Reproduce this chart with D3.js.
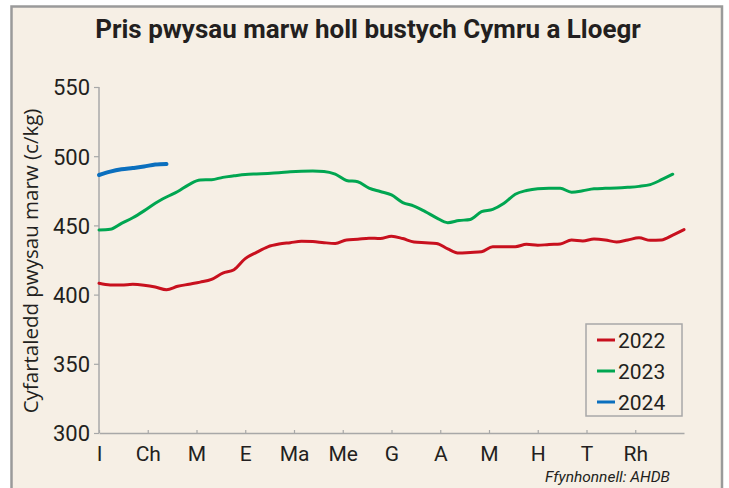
<!DOCTYPE html>
<html>
<head>
<meta charset="utf-8">
<script src="https://cdn.jsdelivr.net/npm/d3@7"></script>
<style>
  html, body { margin: 0; padding: 0; background: #ffffff; }
  svg { display: block; font-family: "Liberation Sans Narrow", "Roboto", "Open Sans", sans-serif; }
</style>
</head>
<body>
<div id="chart"></div>
<script>
// Weekly prices (c/kg), week index 0 = first week of January
const months = ['I', 'Ch', 'M', 'E', 'Ma', 'Me', 'G', 'A', 'M', 'H', 'T', 'Rh'];
const yTicks = [300, 350, 400, 450, 500, 550];

const prices2022 = [408.2, 407, 407, 407.4, 406.8, 405.5, 403.5, 406, 407.5, 409, 411, 415.5, 418,
    426, 430.5, 434.5, 436.5, 437.5, 438.5, 438.3, 437.5, 437, 439.5, 440, 440.8, 440.5, 442.2,
    440.5, 438, 437.5, 437, 433, 430, 430.5, 431, 434.6, 434.6, 434.6, 436.3, 435.6, 436.2, 436.5,
    439.5, 438.8, 440.2, 439.5, 438, 439.5, 441, 439.2, 439.5, 443, 447];
const prices2023 = [446.7, 447.2, 451.5, 455.5, 460.5, 466, 470.5, 474.5, 479.5, 482.8, 483, 484.7,
    485.8, 486.8, 487.2, 487.5, 488, 488.8, 489.2, 489.3, 489, 487, 482.5, 481.5, 477, 474.5, 472,
    466.5, 464, 460, 455.5, 452, 453.5, 454.3, 459.9, 461.6, 466, 472.5, 475.2, 476.5, 476.8, 476.8,
    474, 475, 476.5, 476.8, 477, 477.5, 478.2, 479.5, 483, 487];
const prices2024 = [486.4, 488.9, 490.6, 491.5, 492.5, 494, 494.4];

const seriesNames = ['2022', '2023', '2024'];
const seriesColors = ['#c8101e', '#00a651', '#0b6fbe'];

const width = 729, height = 488;
const plot = { left: 99, right: 684, top: 87, bottom: 433 };

const svg = d3.select('#chart').append('svg')
    .attr('width', width)
    .attr('height', height);

// panel background + border (bottom edge runs off the picture)
svg.append('rect')
    .attr('x', 11.5).attr('y', 6.5)
    .attr('width', 710.5).attr('height', 500)
    .attr('fill', '#f6efe5')
    .attr('stroke', '#9a9a9a')
    .attr('stroke-width', 2.5);

svg.append('text')
    .attr('x', 368)
    .attr('y', 38)
    .attr('text-anchor', 'middle')
    .attr('font-weight', 'bold')
    .attr('font-size', 26)
    .attr('fill', '#231f20')
    .text('Pris pwysau marw holl bustych Cymru a Lloegr');

const x = d3.scaleLinear().domain([0, 52]).range([plot.left, plot.right]);
const xMonth = d3.scaleLinear().domain([0, 12]).range([plot.left, plot.right]);
const y = d3.scaleLinear().domain([300, 550]).range([plot.bottom, plot.top]);

// axes
const yAxis = svg.append('g')
    .attr('transform', `translate(${plot.left},0)`)
    .call(d3.axisLeft(y).tickValues(yTicks).tickSize(5).tickPadding(4));

const xAxis = svg.append('g')
    .attr('transform', `translate(0,${plot.bottom})`)
    .call(d3.axisBottom(xMonth).tickValues(d3.range(12)).tickFormat(i => months[i])
        .tickSize(-3).tickSizeOuter(0).tickPadding(10));

[xAxis, yAxis].forEach(ax => {
    ax.select('.domain').attr('stroke', '#a8a8a8').attr('stroke-width', 1.5);
    ax.selectAll('.tick line').attr('stroke', '#a8a8a8').attr('stroke-width', 1.2);
    ax.selectAll('.tick text')
        .attr('fill', '#231f20')
        .attr('font-family', '"Liberation Sans Narrow", "Roboto", sans-serif');
});
yAxis.select('.domain').attr('d', `M0,${plot.top}V${plot.bottom}`);
yAxis.selectAll('.tick text').attr('font-size', 22).attr('dy', '0.36em');
xAxis.selectAll('.tick text').attr('font-size', 21).attr('dy', '0.85em');

svg.append('text')
    .attr('transform', `translate(38,261) rotate(-90)`)
    .attr('text-anchor', 'middle')
    .attr('font-size', 20.5)
    .attr('font-family', '"Open Sans", sans-serif')
    .attr('fill', '#231f20')
    .text('Cyfartaledd pwysau marw (c/kg)');

// lines
const line = d3.line()
    .x((d, i) => x(i))
    .y(d => y(d))
    .curve(d3.curveMonotoneX);

[prices2022, prices2023, prices2024].forEach((values, k) => {
    svg.append('path')
        .datum(values)
        .attr('fill', 'none')
        .attr('stroke', seriesColors[k])
        .attr('stroke-width', k === 2 ? 4 : 3)
        .attr('stroke-linecap', 'round')
        .attr('stroke-linejoin', 'round')
        .attr('d', line);
});

// legend
const legend = svg.append('g').attr('transform', 'translate(586,324)');
legend.append('rect')
    .attr('width', 96).attr('height', 92)
    .attr('fill', 'none')
    .attr('stroke', '#a8a8a8')
    .attr('stroke-width', 1.5);

seriesNames.forEach((name, k) => {
    const row = legend.append('g').attr('transform', `translate(0,${16 + k * 31})`);
    row.append('line')
        .attr('x1', 11).attr('x2', 29)
        .attr('stroke', seriesColors[k])
        .attr('stroke-width', 3);
    row.append('text')
        .attr('x', 32)
        .attr('dy', '0.36em')
        .attr('font-size', 21)
        .attr('fill', '#231f20')
        .text(name);
});

svg.append('text')
    .attr('x', 670)
    .attr('y', 482)
    .attr('text-anchor', 'end')
    .attr('font-size', 15.5)
    .attr('font-style', 'italic')
    .attr('fill', '#231f20')
    .text('Ffynhonnell: AHDB');
</script>
</body>
</html>
